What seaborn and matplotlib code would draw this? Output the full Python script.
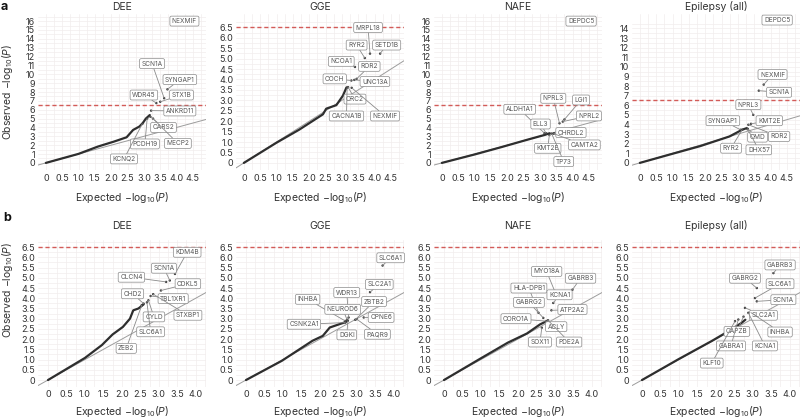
import matplotlib
matplotlib.use("Agg")
import matplotlib.pyplot as plt
import seaborn as sns
import pandas as pd
import numpy as np

# ---------------- data ----------------
PANEL_TITLES = ["DEE", "GGE", "NAFE", "Epilepsy (all)"]
THRESHOLD = 6.5

# Row a -----------------------------------------------------------
A_DEE_EXP = [0, 1.0, 1.59, 2.08, 2.47, 2.67, 2.86, 2.96, 3.06, 3.18]
A_DEE_OBS = [0, 1.02, 1.84, 2.4, 2.89, 3.72, 4.1, 4.47, 5.0, 5.4]
A_DEE_GENES = ["NEXMIF", "SCN1A", "SYNGAP1", "WDR45", "STX1B", "ANKRD11", "CARS2", "MECP2", "PCDH19", "KCNQ2"]
A_DEE_GENE_EXP = [4.24, 3.62, 3.72, 3.38, 3.5, 3.22, 3.2, 3.28, 3.1, 2.95]
A_DEE_GENE_OBS = [16.0, 7.3, 8.3, 6.75, 6.9, 5.9, 5.2, 5.0, 5.0, 4.4]

A_GGE_EXP = [0, 1.0, 1.7, 2.42, 2.52, 2.83, 3.03, 3.14]
A_GGE_OBS = [0, 0.97, 1.6, 2.33, 2.6, 2.77, 3.22, 3.62]
A_GGE_GENES = ["MRPL18", "RYR2", "SETD1B", "NCOA1", "ROR2", "COCH", "UNC13A", "ORC2", "CACNA1B", "NEXMIF"]
A_GGE_GENE_EXP = [3.86, 3.7, 4.17, 3.4, 3.45, 3.29, 3.38, 3.19, 3.16, 3.3]
A_GGE_GENE_OBS = [5.24, 5.03, 5.24, 4.6, 4.03, 3.95, 3.98, 3.63, 3.6, 3.6]

A_NAFE_EXP = [0, 1.0, 1.82, 2.6, 3.14, 3.3]
A_NAFE_OBS = [0, 0.95, 1.78, 2.6, 3.15, 3.35]
A_NAFE_GENES = ["DEPDC5", "NPRL3", "LGI1", "ALDH1A1", "NPRL2", "ELL3", "CHRDL2", "CAMTA2", "KMT2E", "TP73"]
A_NAFE_GENE_EXP = [4.26, 3.6, 3.75, 3.14, 3.7, 3.19, 3.44, 3.42, 3.29, 3.36]
A_NAFE_GENE_OBS = [16.0, 4.47, 4.9, 3.35, 4.66, 3.35, 3.35, 3.3, 3.15, 3.3]

A_EPI_EXP = [0, 1.0, 1.85, 2.74, 3.13, 3.27]
A_EPI_OBS = [0, 0.95, 1.75, 2.75, 3.45, 3.62]
A_EPI_GENES = ["DEPDC5", "NEXMIF", "SCN1A", "NPRL3", "KMT2E", "SYNGAP1", "ROR2", "OMD", "RYR2", "DHX57"]
A_EPI_GENE_EXP = [4.2, 3.79, 3.64, 3.47, 3.4, 3.08, 3.32, 3.3, 3.13, 3.3]
A_EPI_GENE_OBS = [14.87, 8.15, 7.52, 5.0, 4.07, 3.45, 3.97, 3.55, 3.45, 3.5]

# Row b -----------------------------------------------------------
B_DEE_EXP = [0, 1.0, 1.46, 1.75, 2.03, 2.22, 2.31, 2.45, 2.59]
B_DEE_OBS = [0, 1.08, 1.71, 2.23, 2.6, 3.0, 3.41, 3.5, 3.7]
B_DEE_GENES = ["KDM4B", "SCN1A", "CLCN4", "CDKL5", "CHD2", "TBL1XR1", "STXBP1", "CYLD", "SLC6A1", "ZEB2"]
B_DEE_GENE_EXP = [3.44, 3.3, 3.2, 3.06, 2.59, 2.78, 2.85, 2.72, 2.68, 2.54]
B_DEE_GENE_OBS = [5.19, 4.87, 4.8, 4.38, 3.74, 4.11, 4.2, 3.9, 3.8, 3.66]

B_GGE_EXP = [0, 0.97, 1.8, 2.08, 2.27, 2.64, 2.72]
B_GGE_OBS = [0, 0.94, 1.92, 2.16, 2.57, 2.8, 2.86]
B_GGE_GENES = ["SLC6A1", "SLC2A1", "WDR13", "INHBA", "ZBTB2", "NEUROD6", "CPNE6", "CSNK2A1", "DGKI", "PAQR9"]
B_GGE_GENE_EXP = [3.7, 3.36, 2.78, 2.69, 2.96, 2.74, 3.19, 2.69, 2.76, 3.0]
B_GGE_GENE_OBS = [5.6, 4.3, 3.06, 2.89, 2.95, 2.95, 3.06, 2.81, 2.9, 2.98]

B_NAFE_EXP = [0, 0.94, 1.73, 2.25, 2.6, 2.78]
B_NAFE_OBS = [0, 1.0, 1.83, 2.28, 2.72, 2.88]
B_NAFE_GENES = ["MYO18A", "GABRB3", "HLA-DPB1", "KCNA1", "GABRG2", "ATP2A2", "CORO1A", "ACLY", "SOX11", "PDE2A"]
B_NAFE_GENE_EXP = [3.04, 3.48, 2.56, 2.96, 2.69, 2.91, 2.78, 2.8, 2.65, 2.82]
B_NAFE_GENE_OBS = [4.17, 4.42, 3.29, 3.77, 3.04, 3.41, 2.88, 2.9, 2.56, 2.92]

B_EPI_EXP = [0, 0.99, 1.89, 2.43, 2.7, 2.8]
B_EPI_OBS = [0, 1.02, 1.91, 2.48, 2.8, 2.95]
B_EPI_GENES = ["GABRB3", "GABRG2", "SLC6A1", "SCN1A", "SLC2A1", "INHBA", "CAPZB", "KCNA1", "GABRA1", "KLF10"]
B_EPI_GENE_EXP = [3.56, 3.11, 3.06, 3.11, 2.79, 2.95, 2.75, 2.88, 2.61, 2.52]
B_EPI_GENE_OBS = [5.23, 4.5, 4.01, 3.85, 3.53, 3.3, 3.1, 3.29, 2.96, 2.88]

# ---------------- label placement (layout, data coordinates) ----------------
A_DEE_LAB_X = [4.24, 3.25, 4.1, 3.0, 4.15, 4.1, 3.6, 4.04, 3.03, 2.39]
A_DEE_LAB_Y = [16.0, 11.2, 9.4, 7.66, 7.66, 5.86, 4.0, 2.2, 2.14, 0.45]
A_GGE_LAB_X = [3.8, 3.45, 4.37, 2.98, 3.84, 2.78, 4.01, 3.4, 3.14, 4.32]
A_GGE_LAB_Y = [6.49, 5.65, 5.65, 4.87, 4.63, 4.03, 3.9, 3.06, 2.25, 2.25]
A_NAFE_LAB_X = [4.26, 3.41, 4.26, 2.38, 4.5, 3.02, 3.95, 4.36, 3.24, 3.73]
A_NAFE_LAB_Y = [16.0, 7.29, 7.1, 6.05, 5.3, 4.39, 3.42, 2.03, 1.65, 0.15]
A_EPI_LAB_X = [4.2, 4.06, 4.26, 3.32, 3.96, 2.54, 4.26, 3.6, 2.79, 3.64]
A_EPI_LAB_Y = [14.87, 9.2, 7.35, 6.06, 4.39, 4.39, 2.75, 2.68, 1.53, 1.36]
B_DEE_LAB_X = [3.77, 3.14, 2.26, 3.79, 2.29, 3.39, 3.79, 2.87, 2.78, 2.12]
B_DEE_LAB_Y = [6.25, 5.47, 5.03, 4.71, 4.22, 3.98, 3.17, 3.09, 2.36, 1.55]
B_GGE_LAB_X = [3.92, 3.61, 2.73, 1.67, 3.47, 2.62, 3.66, 1.57, 2.73, 3.56]
B_GGE_LAB_Y = [5.98, 4.68, 4.28, 3.95, 3.84, 3.46, 3.06, 2.73, 2.21, 2.24]
B_NAFE_LAB_X = [2.78, 3.7, 2.3, 3.13, 2.3, 3.48, 1.95, 3.04, 2.6, 3.39]
B_NAFE_LAB_Y = [5.31, 4.98, 4.5, 4.17, 3.8, 3.45, 3.0, 2.61, 1.86, 1.86]
B_EPI_LAB_X = [3.74, 2.79, 3.74, 3.83, 3.29, 3.74, 2.57, 3.33, 2.41, 1.89]
B_EPI_LAB_Y = [5.63, 4.98, 4.71, 3.93, 3.17, 2.35, 2.38, 1.67, 1.67, 0.83]

# ---------------- styling ----------------
sns.set_theme(style="white")
plt.rcParams["font.family"] = ["Inter", "DejaVu Sans"]
plt.rcParams["mathtext.fontset"] = "custom"
plt.rcParams["mathtext.rm"] = "Inter"
plt.rcParams["mathtext.it"] = "Inter:italic"

W, H = 800, 420
fig = plt.figure(figsize=(8, 4.2), dpi=100)

COL_LEFT = [38, 236, 434, 632]
AX_W = 168
ROWS = {
    "a": dict(top=14, bottom=170, xlim=(-0.24, 4.9), xmax_tick=4.5, title_pad=3, labelpad=5, tickpad=3),
    "b": dict(top=240, bottom=387, xlim=(-0.27, 4.28), xmax_tick=4.0, title_pad=8, labelpad=3, tickpad=2.5),
}

panels = [
    ("a", 0, A_DEE_EXP, A_DEE_OBS, A_DEE_GENES, A_DEE_GENE_EXP, A_DEE_GENE_OBS, A_DEE_LAB_X, A_DEE_LAB_Y, (-0.8, 16.8), 1, 16),
    ("a", 1, A_GGE_EXP, A_GGE_OBS, A_GGE_GENES, A_GGE_GENE_EXP, A_GGE_GENE_OBS, A_GGE_LAB_X, A_GGE_LAB_Y, (-0.34, 7.14), 0.5, 6.5),
    ("a", 2, A_NAFE_EXP, A_NAFE_OBS, A_NAFE_GENES, A_NAFE_GENE_EXP, A_NAFE_GENE_OBS, A_NAFE_LAB_X, A_NAFE_LAB_Y, (-0.8, 16.8), 1, 16),
    ("a", 3, A_EPI_EXP, A_EPI_OBS, A_EPI_GENES, A_EPI_GENE_EXP, A_EPI_GENE_OBS, A_EPI_LAB_X, A_EPI_LAB_Y, (-0.74, 15.5), 1, 14),
    ("b", 0, B_DEE_EXP, B_DEE_OBS, B_DEE_GENES, B_DEE_GENE_EXP, B_DEE_GENE_OBS, B_DEE_LAB_X, B_DEE_LAB_Y, (-0.34, 6.85), 0.5, 6.5),
    ("b", 1, B_GGE_EXP, B_GGE_OBS, B_GGE_GENES, B_GGE_GENE_EXP, B_GGE_GENE_OBS, B_GGE_LAB_X, B_GGE_LAB_Y, (-0.34, 6.85), 0.5, 6.5),
    ("b", 2, B_NAFE_EXP, B_NAFE_OBS, B_NAFE_GENES, B_NAFE_GENE_EXP, B_NAFE_GENE_OBS, B_NAFE_LAB_X, B_NAFE_LAB_Y, (-0.34, 6.85), 0.5, 6.5),
    ("b", 3, B_EPI_EXP, B_EPI_OBS, B_EPI_GENES, B_EPI_GENE_EXP, B_EPI_GENE_OBS, B_EPI_LAB_X, B_EPI_LAB_Y, (-0.34, 6.85), 0.5, 6.5),
]

TEXT = "#333333"
GRID = "#f1eded"


def fmt(v, step):
    if abs(v) < 1e-9:
        return "0"
    return f"{v:.1f}" if step < 1 else f"{int(round(v))}"


for row, col, ex, ob, genes, gx, gy, lx, ly, ylim, ystep, ytop in panels:
    r = ROWS[row]
    left = COL_LEFT[col]
    ax = fig.add_axes([left / W, 1 - r["bottom"] / H, AX_W / W, (r["bottom"] - r["top"]) / H])
    ax.set_xlim(*r["xlim"])
    ax.set_ylim(*ylim)

    xt = np.arange(0, r["xmax_tick"] + 0.01, 0.5)
    yt = np.arange(0, ytop + 0.01, ystep)
    ax.set_xticks(xt)
    ax.set_xticklabels([fmt(v, 0.5) for v in xt])
    ax.set_yticks(yt)
    ax.set_yticklabels([fmt(v, ystep) for v in yt])
    ax.set_xticks(np.arange(0.25, r["xlim"][1], 0.5), minor=True)
    ax.set_yticks(np.arange(ystep / 2, ylim[1], ystep), minor=True)
    ax.grid(True, which="both", color=GRID, lw=0.5)
    ax.set_axisbelow(True)
    for s in ax.spines.values():
        s.set_visible(False)
    ax.tick_params(which="both", length=0, labelsize=6.5, labelcolor=TEXT)
    ax.tick_params(axis="x", pad=r["tickpad"])
    ax.tick_params(axis="y", pad=2)

    # expected diagonal and threshold
    ax.axline((0, 0), slope=1, color="#9c9c9c", lw=0.7, zorder=2)
    ax.axhline(THRESHOLD, color="#d35b58", lw=1.0, ls=(0, (3, 2)), zorder=2)

    # observed QQ curve
    df = pd.DataFrame({"exp": ex, "obs": ob})
    sns.lineplot(data=df, x="exp", y="obs", ax=ax, color="#2e2e2e", lw=1.6,
                 sort=False, estimator=None, zorder=3)
    gdf = pd.DataFrame({"exp": gx, "obs": gy})
    sns.scatterplot(data=gdf, x="exp", y="obs", ax=ax, color="#3a3a3a", s=3,
                    edgecolor="none", zorder=3, legend=False)

    for g, px, py, tx, ty in zip(genes, gx, gy, lx, ly):
        ax.annotate(g, xy=(px, py), xytext=(tx, ty), textcoords="data",
                    fontsize=4.7, color="#555555", ha="center", va="center",
                    bbox=dict(boxstyle="round,pad=0.3,rounding_size=0.25", fc="white",
                              ec="#8a8a8a", lw=0.5),
                    arrowprops=dict(arrowstyle="-", color="#8a8a8a", lw=0.6,
                                    shrinkA=0, shrinkB=0),
                    zorder=5, annotation_clip=False)

    ax.set_title(PANEL_TITLES[col], fontsize=7.5, color=TEXT, pad=r["title_pad"])
    ax.set_xlabel("Expected −log$_{10}$($P$)", fontsize=7.5, color=TEXT, labelpad=r["labelpad"])
    ax.set_ylabel("")

# y labels and panel letters
fig.text(8 / W, 1 - 92 / H, "Observed −log$_{10}$($P$)", rotation=90, ha="center",
         va="center", fontsize=7.5, color=TEXT)
fig.text(8 / W, 1 - 290 / H, "Observed −log$_{10}$($P$)", rotation=90, ha="center",
         va="center", fontsize=7.5, color=TEXT)
fig.text(1 / W, 1 - 1 / H, "a", fontsize=9, fontweight="bold", ha="left", va="top", color="#111")
fig.text(3 / W, 1 - 212 / H, "b", fontsize=9, fontweight="bold", ha="left", va="top", color="#111")

fig.savefig("out.png", dpi=100, facecolor="white")
